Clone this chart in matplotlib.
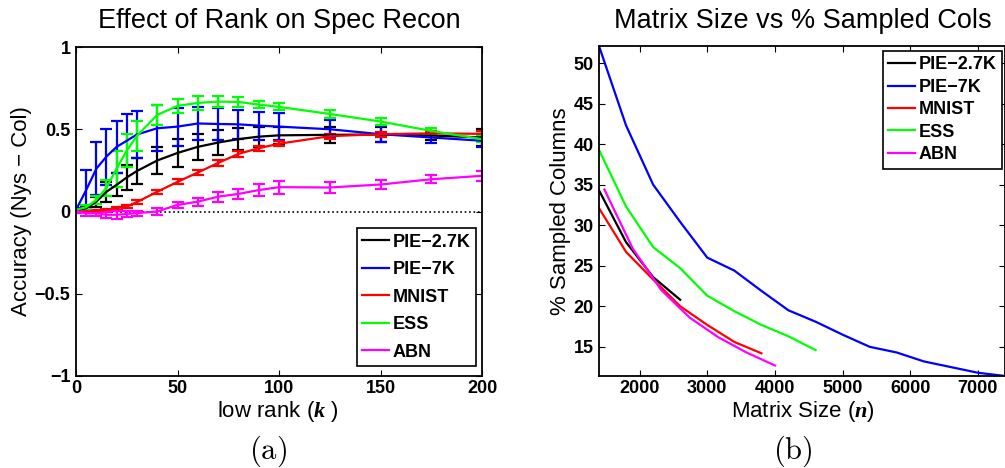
import matplotlib
matplotlib.use("Agg")
import matplotlib.pyplot as plt

plt.rcParams['font.family'] = ['Liberation Sans', 'DejaVu Sans']
plt.rcParams['mathtext.fontset'] = 'custom'
plt.rcParams['mathtext.it'] = 'Liberation Serif:italic:bold'
plt.rcParams['mathtext.rm'] = 'Liberation Sans'

# (a) accuracy difference vs low rank k
k = [0, 5, 10, 15, 20, 25, 30, 40, 50, 60, 70, 80, 90, 100, 125, 150, 175, 200]
pie27 = [0.01, 0.02, 0.06, 0.12, 0.162, 0.207, 0.246, 0.31, 0.356, 0.393, 0.419, 0.44, 0.455, 0.463, 0.466, 0.468, 0.462, 0.45]
pie27_err = [0.0, 0.01, 0.03, 0.06, 0.07, 0.075, 0.08, 0.085, 0.085, 0.08, 0.075, 0.065, 0.06, 0.05, 0.05, 0.045, 0.03, 0.05]
pie7 = [0.01, 0.13, 0.26, 0.334, 0.393, 0.43, 0.468, 0.506, 0.516, 0.535, 0.532, 0.53, 0.522, 0.516, 0.50, 0.47, 0.45, 0.43]
pie7_err = [0.01, 0.12, 0.16, 0.17, 0.16, 0.16, 0.14, 0.14, 0.115, 0.10, 0.096, 0.09, 0.085, 0.08, 0.055, 0.05, 0.035, 0.04]
mnist = [0.0, 0.0, 0.003, 0.01, 0.02, 0.03, 0.057, 0.12, 0.18, 0.237, 0.295, 0.35, 0.385, 0.412, 0.458, 0.47, 0.475, 0.472]
mnist_err = [0.005, 0.005, 0.005, 0.008, 0.01, 0.01, 0.012, 0.012, 0.015, 0.018, 0.018, 0.018, 0.015, 0.015, 0.015, 0.015, 0.012, 0.015]
ess = [0.01, 0.026, 0.07, 0.144, 0.26, 0.37, 0.46, 0.587, 0.642, 0.66, 0.668, 0.666, 0.65, 0.636, 0.593, 0.547, 0.49, 0.44]
ess_err = [0.005, 0.015, 0.027, 0.05, 0.11, 0.10, 0.09, 0.06, 0.043, 0.04, 0.034, 0.028, 0.022, 0.022, 0.025, 0.02, 0.02, 0.02]
abn = [0.0, -0.01, -0.01, -0.02, -0.02, -0.015, -0.01, 0.0, 0.04, 0.06, 0.09, 0.107, 0.13, 0.148, 0.146, 0.164, 0.196, 0.217]
abn_err = [0.01, 0.015, 0.015, 0.02, 0.025, 0.02, 0.015, 0.02, 0.02, 0.025, 0.03, 0.03, 0.035, 0.04, 0.035, 0.03, 0.025, 0.03]

# (b) % sampled columns vs matrix size n
n_pie27 = [1400, 1800, 2200, 2600]
pct_pie27 = [34.3, 27.9, 23.6, 20.8]
n_pie7 = [1400, 1800, 2200, 2600, 3000, 3400, 3800, 4200, 4600, 5000, 5400, 5800, 6200, 6600, 7000, 7400]
pct_pie7 = [52.1, 42.3, 35.0, 30.4, 26.0, 24.4, 21.9, 19.5, 18.1, 16.5, 15.0, 14.3, 13.2, 12.5, 11.8, 11.4]
n_mnist = [1400, 1800, 2200, 2600, 3000, 3400, 3800]
pct_mnist = [32.1, 26.7, 23.3, 20.0, 17.7, 15.6, 14.2]
n_ess = [1400, 1800, 2200, 2600, 3000, 3400, 3800, 4200, 4600]
pct_ess = [39.3, 32.3, 27.3, 24.7, 21.3, 19.4, 17.7, 16.3, 14.6]
n_abn = [1480, 1900, 2320, 2740, 3160, 3580, 4000]
pct_abn = [34.4, 27.1, 22.0, 18.6, 16.2, 14.3, 12.7]

names = ["PIE\u22122.7K", "PIE\u22127K", "MNIST", "ESS", "ABN"]
colors = ["k", (0, 0, 1), (1, 0, 0), (0, 1, 0), (1, 0, 1)]

W, H = 1005, 468
fig = plt.figure(figsize=(W / 100, H / 100), dpi=100)

def box(l, t, r, b):
    return [l / W, 1 - b / H, (r - l) / W, (b - t) / H]

def style(ax):
    ax.tick_params(direction='in', length=4, width=0.8, top=True, right=True,
                   labelsize=13)
    ax.tick_params(axis='x', pad=3)
    ax.tick_params(axis='y', pad=4)
    for lab in ax.get_xticklabels() + ax.get_yticklabels():
        lab.set_fontweight('bold')
    for s in ax.spines.values():
        s.set_linewidth(1.3)

# ---- panel (a)
ax1 = fig.add_axes(box(76, 47, 482, 376))
ax1.axhline(0, color='k', ls=':', lw=1.2, zorder=1)
series = [(pie27, pie27_err), (pie7, pie7_err), (mnist, mnist_err), (ess, ess_err), (abn, abn_err)]
for (y, e), c, nm in zip(series, colors, names):
    ax1.errorbar(k, y, yerr=e, color=c, lw=1.6, elinewidth=1.6, capsize=4.5,
                 capthick=1.6, label=nm)
ax1.set_xlim(0, 200)
ax1.set_ylim(-1, 1)
ax1.set_xticks([0, 50, 100, 150, 200])
ax1.set_yticks([-1, -0.5, 0, 0.5, 1])
ax1.set_yticklabels(["\u22121", "\u22120.5", "0", "0.5", "1"])
style(ax1)
h, l = ax1.get_legend_handles_labels()
h = [x[0] for x in h]
leg1 = ax1.legend(h, l, loc='lower right', bbox_to_anchor=(476 / W, 1 - 366 / H),
                  bbox_transform=fig.transFigure, borderaxespad=0, fancybox=False,
                  edgecolor='k', framealpha=1, prop={'weight': 'bold', 'size': 13},
                  handlelength=1.5, handletextpad=0.2, labelspacing=0.58, borderpad=0.3)
leg1.get_frame().set_linewidth(1.2)

fig.text(279 / W, 1 - 21 / H, "Effect of Rank on Spec Recon", ha='center', va='center', fontsize=19.5)
fig.text(22 / W, 1 - 211 / H, "Accuracy (Nys \u2212 Col)", ha='center', va='center', rotation=90, fontsize=16)
fig.text(278 / W, 1 - 411 / H, r"low rank ($k$ )", ha='center', va='center', fontsize=16)
fig.text(268 / W, 1 - 451 / H, r"$\mathrm{(a)}$", ha='center', va='center', fontsize=22, math_fontfamily='cm')

# ---- panel (b)
ax2 = fig.add_axes(box(599, 46, 1005, 376))
xs = [n_pie27, n_pie7, n_mnist, n_ess, n_abn]
ys = [pct_pie27, pct_pie7, pct_mnist, pct_ess, pct_abn]
for x, y, c, nm in zip(xs, ys, colors, names):
    ax2.plot(x, y, color=c, lw=1.6, label=nm)
ax2.set_xlim(min(n_pie7), max(n_pie7))
ax2.set_ylim(min(pct_pie7), max(pct_pie7))
ax2.set_xticks([2000, 3000, 4000, 5000, 6000, 7000])
ax2.set_yticks([15, 20, 25, 30, 35, 40, 45, 50])
style(ax2)
leg2 = ax2.legend(loc='upper right', bbox_to_anchor=(1002 / W, 1 - 51 / H),
                  bbox_transform=fig.transFigure, borderaxespad=0, fancybox=False,
                  edgecolor='k', framealpha=1, prop={'weight': 'bold', 'size': 13},
                  handlelength=1.5, handletextpad=0.2, labelspacing=0.3, borderpad=0.3)
leg2.get_frame().set_linewidth(1.2)

fig.text(803 / W, 1 - 21 / H, "Matrix Size vs % Sampled Cols", ha='center', va='center', fontsize=19.5)
fig.text(560 / W, 1 - 211 / H, "% Sampled Columns", ha='center', va='center', rotation=90, fontsize=16)
fig.text(803 / W, 1 - 411 / H, r"Matrix Size ($n$)", ha='center', va='center', fontsize=16)
fig.text(793 / W, 1 - 451 / H, r"$\mathrm{(b)}$", ha='center', va='center', fontsize=22, math_fontfamily='cm')

fig.savefig("out.png", dpi=100)
